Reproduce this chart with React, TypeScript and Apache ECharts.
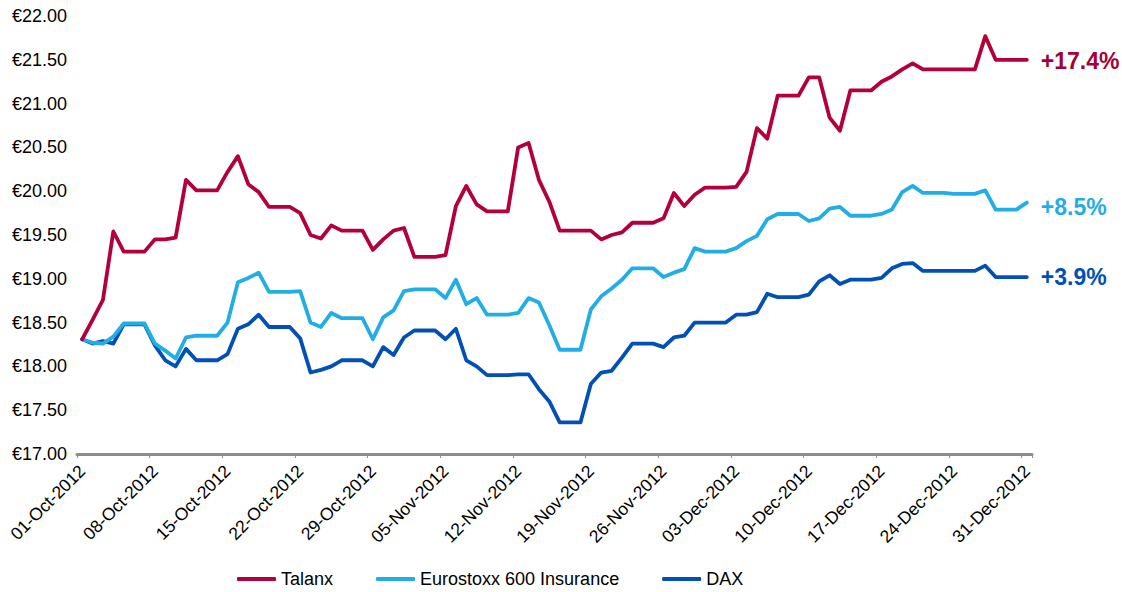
import React, { useEffect, useRef } from "react";
import * as echarts from "echarts";

const MONTHS = ["Jan", "Feb", "Mar", "Apr", "May", "Jun", "Jul", "Aug", "Sep", "Oct", "Nov", "Dec"];

// Daily calendar dates 01-Oct-2012 .. 31-Dec-2012
const dates: string[] = (() => {
  const out: string[] = [];
  const d = new Date(Date.UTC(2012, 9, 1));
  const end = Date.UTC(2012, 11, 31);
  while (d.getTime() <= end) {
    const dd = String(d.getUTCDate()).padStart(2, "0");
    out.push(`${dd}-${MONTHS[d.getUTCMonth()]}-${d.getUTCFullYear()}`);
    d.setUTCDate(d.getUTCDate() + 1);
  }
  return out;
})();

const talanx = [
  18.31, 18.53, 18.76, 19.54, 19.31, 19.31, 19.31, 19.45, 19.45, 19.47,
  20.13, 20.01, 20.01, 20.01, 20.22, 20.40, 20.08, 19.99, 19.82, 19.82,
  19.82, 19.75, 19.50, 19.46, 19.61, 19.55, 19.55, 19.55, 19.33, 19.45,
  19.55, 19.58, 19.25, 19.25, 19.25, 19.27, 19.83, 20.06, 19.85, 19.77,
  19.77, 19.77, 20.50, 20.55, 20.13, 19.88, 19.55, 19.55, 19.55, 19.55,
  19.45, 19.50, 19.53, 19.64, 19.64, 19.64, 19.69, 19.98, 19.83, 19.96,
  20.04, 20.04, 20.04, 20.05, 20.22, 20.72, 20.60, 21.09, 21.09, 21.09,
  21.30, 21.30, 20.84, 20.69, 21.15, 21.15, 21.15, 21.25, 21.31, 21.39,
  21.46, 21.39, 21.39, 21.39, 21.39, 21.39, 21.39, 21.77, 21.50, 21.50,
  21.50, 21.50,
];

const eurostoxx = [
  18.31, 18.27, 18.26, 18.34, 18.49, 18.49, 18.49, 18.26, 18.18, 18.09,
  18.33, 18.35, 18.35, 18.35, 18.50, 18.96, 19.01, 19.07, 18.85, 18.85,
  18.85, 18.86, 18.50, 18.45, 18.61, 18.55, 18.55, 18.55, 18.31, 18.56,
  18.64, 18.86, 18.88, 18.88, 18.88, 18.78, 18.99, 18.71, 18.78, 18.59,
  18.59, 18.59, 18.61, 18.78, 18.73, 18.47, 18.19, 18.19, 18.19, 18.65,
  18.80, 18.89, 18.99, 19.12, 19.12, 19.12, 19.02, 19.07, 19.11, 19.35,
  19.31, 19.31, 19.31, 19.35, 19.43, 19.49, 19.68, 19.74, 19.74, 19.74,
  19.66, 19.69, 19.80, 19.82, 19.72, 19.72, 19.72, 19.74, 19.79, 19.99,
  20.06, 19.98, 19.98, 19.98, 19.97, 19.97, 19.97, 20.01, 19.79, 19.79,
  19.79, 19.87,
];

const dax = [
  18.31, 18.26, 18.29, 18.26, 18.48, 18.48, 18.48, 18.24, 18.07, 18.00,
  18.20, 18.07, 18.07, 18.07, 18.14, 18.43, 18.48, 18.59, 18.45, 18.45,
  18.45, 18.32, 17.93, 17.96, 18.00, 18.07, 18.07, 18.07, 18.00, 18.22,
  18.13, 18.33, 18.41, 18.41, 18.41, 18.31, 18.43, 18.07, 18.00, 17.90,
  17.90, 17.90, 17.91, 17.91, 17.74, 17.60, 17.36, 17.36, 17.36, 17.80,
  17.93, 17.95, 18.10, 18.26, 18.26, 18.26, 18.22, 18.33, 18.35, 18.50,
  18.50, 18.50, 18.50, 18.59, 18.59, 18.62, 18.83, 18.79, 18.79, 18.79,
  18.82, 18.97, 19.04, 18.94, 18.99, 18.99, 18.99, 19.01, 19.12, 19.17,
  19.18, 19.09, 19.09, 19.09, 19.09, 19.09, 19.09, 19.15, 19.02, 19.02,
  19.02, 19.02,
];

const seriesNames = ["Talanx", "Eurostoxx 600 Insurance", "DAX"];
const endChanges = ["+17.4%", "+8.5%", "+3.9%"];
const FONT = "'Liberation Sans', Arial, sans-serif";

const RED = "#B4003A";
const CYAN = "#21AEE6";
const BLUE = "#0050B6";

export default function App() {
  const ref = useRef<HTMLDivElement>(null);
  useEffect(() => {
    document.body.style.margin = "0";
    if (!ref.current) return;
    const chart = echarts.init(ref.current, undefined, { renderer: "svg" });
    const mkSeries = (name: string, data: number[], color: string, label: string, labelColor: string, offY: number, z: number) => ({
      name,
      type: "line",
      data,
      symbol: "none",
      z,
      lineStyle: { color, width: 3.8, join: "round", cap: "round" },
      itemStyle: { color },
      endLabel: {
        show: true,
        formatter: () => label,
        color: labelColor,
        fontSize: 23,
        fontWeight: "bold",
        fontFamily: FONT,
        distance: 14,
        offset: [0, offY],
      },
    });
    chart.setOption({
      animation: false,
      backgroundColor: "#fff",
      grid: { left: 77, right: 90, top: 16, bottom: 138, containLabel: false },
      legend: {
        data: seriesNames,
        left: 237,
        top: 570,
        padding: 0,
        icon: "roundRect",
        itemWidth: 39,
        itemHeight: 4,
        itemGap: 43,
        textStyle: { fontSize: 18, color: "#000", fontFamily: FONT, lineHeight: 18 },
      },
      xAxis: {
        type: "category",
        data: dates,
        boundaryGap: true,
        axisLine: { show: true, lineStyle: { color: "#8C8C8C", width: 3 } },
        axisTick: { show: true, interval: 6, length: 4, lineStyle: { color: "#8C8C8C", width: 1 } },
        axisLabel: {
          interval: 6,
          rotate: 45,
          fontSize: 17.5,
          color: "#000",
          fontFamily: FONT,
          margin: 14,
        },
        splitLine: { show: false },
      },
      yAxis: {
        type: "value",
        min: 17,
        max: 22,
        interval: 0.5,
        axisLine: { show: false },
        axisTick: { show: false },
        splitLine: { show: false },
        axisLabel: {
          formatter: (v: number) => "€" + v.toFixed(2),
          fontSize: 18,
          color: "#000",
          fontFamily: FONT,
          margin: 10,
        },
      },
      series: [
        mkSeries(seriesNames[2], dax, BLUE, endChanges[2], BLUE, 0, 2),
        mkSeries(seriesNames[1], eurostoxx, CYAN, endChanges[1], CYAN, 4, 3),
        mkSeries(seriesNames[0], talanx, RED, endChanges[0], "#A3003A", 1.5, 4),
      ],
    });
    return () => chart.dispose();
  }, []);
  return <div ref={ref} style={{ width: 1122, height: 592 }} />;
}
